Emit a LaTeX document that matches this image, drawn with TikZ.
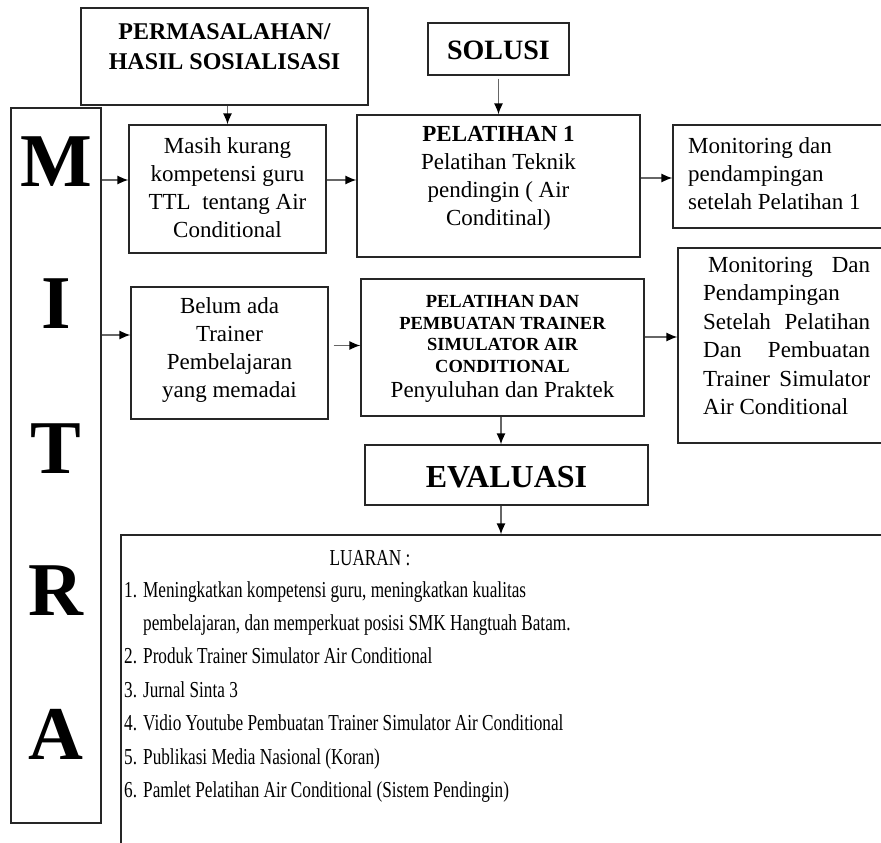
\documentclass[tikz,border=0pt]{standalone}
\usepackage{fontspec}
\setmainfont{Liberation Serif}
\newfontfamily\condfont[FakeStretch=0.755]{Liberation Serif}
\usetikzlibrary{arrows.meta}
\begin{document}
\begin{tikzpicture}[x=1pt,y=-1pt,
  box/.style={draw=black!85, line width=1.2pt, inner sep=0pt, rectangle},
  txt/.style={inner sep=0pt, align=center, font=\fontsize{23}{28}\selectfont},
  big/.style={inner sep=0pt, font=\fontsize{76}{76}\selectfont\bfseries},
  item/.style={inner sep=0pt, anchor=base west, font=\condfont\fontsize{22.8}{24}\selectfont},
  arr/.style={draw=black!60, line width=1.4pt, -{Latex[length=11pt,width=9pt,fill=black,color=black]}}
]
\useasboundingbox (0,0) rectangle (881,843);
\clip (0,0) rectangle (881,843);
% boxes
\node[box, minimum width=287pt, minimum height=97pt] (perm) at (224.5,56.5) {};
\node[box, minimum width=141pt, minimum height=52pt] (solusi) at (498.5,49) {};
\node[box, minimum width=90pt, minimum height=715pt] (mitra) at (56,465.5) {};
\node[box, minimum width=197pt, minimum height=128pt] (masih) at (227.5,189) {};
\node[box, minimum width=283pt, minimum height=142pt] (pel1) at (498.5,186) {};
\node[box, minimum width=327pt, minimum height=103pt] (mon1) at (836.5,176.5) {};
\node[box, minimum width=197pt, minimum height=132pt] (belum) at (229.5,353) {};
\node[box, minimum width=283pt, minimum height=137pt] (pel2) at (502.5,347.5) {};
\node[box, minimum width=322pt, minimum height=195pt] (mon2) at (839,345.5) {};
\node[box, minimum width=283pt, minimum height=60pt] (eval) at (506.5,475) {};
\node[box, minimum width=879pt, minimum height=465pt] (luaran) at (560.5,767.5) {};
% texts
\node[txt, font=\fontsize{24}{30}\selectfont\bfseries] (permt) at (224.5,47) {PERMASALAHAN/\\HASIL SOSIALISASI};
\node[txt, font=\fontsize{28}{30}\selectfont\bfseries] (solt) at (498.5,50) {SOLUSI};
\node[txt] (masiht) at (227.5,188) {Masih kurang\\kompetensi guru\\TTL\ \ tentang Air\\Conditional};
\node[txt] (pel1t) at (498.5,178) {\textbf{PELATIHAN 1}\\Pelatihan Teknik\\pendingin ( Air\\Conditinal)};
\node[txt, align=left, anchor=west] (mon1t) at (688,174) {Monitoring dan\\pendampingan\\setelah Pelatihan 1};
\node[txt] (belumt) at (229.5,349.5) {Belum ada\\Trainer\\Pembelajaran\\yang memadai};
\node[txt, font=\fontsize{18.5}{21.7}\selectfont\bfseries] (pel2t) at (502.5,334) {PELATIHAN DAN\\PEMBUATAN TRAINER\\SIMULATOR AIR\\CONDITIONAL};
\node[txt] (pel2s) at (502.5,391.5) {Penyuluhan dan Praktek};
\node[txt, align=left, anchor=west, font=\fontsize{23}{28.4}\selectfont] (mon2t) at (703,336) {%
\makebox[167pt][s]{\hspace*{5pt}Monitoring\hfill Dan}\\
\makebox[167pt][l]{Pendampingan}\\
\makebox[167pt][s]{Setelah\hfill Pelatihan}\\
\makebox[167pt][s]{Dan\hfill Pembuatan}\\
\makebox[167pt][s]{Trainer\hfill Simulator}\\
\makebox[167pt][l]{Air Conditional}};
\node[txt, font=\fontsize{32}{34}\selectfont\bfseries] (evalt) at (506.5,477) {EVALUASI};
% MITRA
\node[big] (mM) at (56,162) {M};
\node[big] (mI) at (56,304) {I};
\node[big] (mT) at (56,449) {T};
\node[big] (mR) at (56,591) {R};
\node[big] (mA) at (56,734) {A};
% LUARAN
\node[inner sep=0pt, font=\condfont\fontsize{22.8}{24}\selectfont] (lt) at (370,558) {LUARAN :};
\node[item] (l1) at (124,597) {\makebox[19pt][l]{1.}Meningkatkan kompetensi guru, meningkatkan kualitas};
\node[item] (l1b) at (143,630) {pembelajaran, dan memperkuat posisi SMK Hangtuah Batam.};
\node[item] (l2) at (124,663) {\makebox[19pt][l]{2.}Produk Trainer Simulator Air Conditional};
\node[item] (l3) at (124,697) {\makebox[19pt][l]{3.}Jurnal Sinta 3};
\node[item] (l4) at (124,730) {\makebox[19pt][l]{4.}Vidio Youtube Pembuatan Trainer Simulator Air Conditional};
\node[item] (l5) at (124,764) {\makebox[19pt][l]{5.}Publikasi Media Nasional (Koran)};
\node[item] (l6) at (124,797) {\makebox[19pt][l]{6.}Pamlet Pelatihan Air Conditional (Sistem Pendingin)};
% connector anchor points
\coordinate (cMa) at ([yshift=9pt]masih.west);
\coordinate (cMb) at ([yshift=9pt]masih.east);
\coordinate (cP1) at ([yshift=8pt]pel1.east);
\coordinate (cBe) at ([yshift=18pt]belum.west);
\coordinate (cBb) at ([xshift=5pt,yshift=7.5pt]belum.east);
\coordinate (cP2) at ([yshift=10.5pt]pel2.east);
\coordinate (cP2s) at ([xshift=-1.5pt]pel2.south);
% connectors
\draw[arr] (masih.north |- perm.south) -- (masih.north);
\draw[arr] ([yshift=-3pt]solusi.south) -- (pel1.north);
\draw[arr] (mitra.east |- cMa) -- (cMa);
\draw[arr] (cMb) -- (pel1.west |- cMb);
\draw[arr] (cP1) -- (mon1.west |- cP1);
\draw[arr] (mitra.east |- cBe) -- (cBe);
\draw[arr] (cBb) -- (pel2.west |- cBb);
\draw[arr] (cP2) -- (mon2.west |- cP2);
\draw[arr] (cP2s) -- (cP2s |- eval.north);
\draw[arr] (cP2s |- eval.south) -- (cP2s |- luaran.north);
\end{tikzpicture}
\end{document}
